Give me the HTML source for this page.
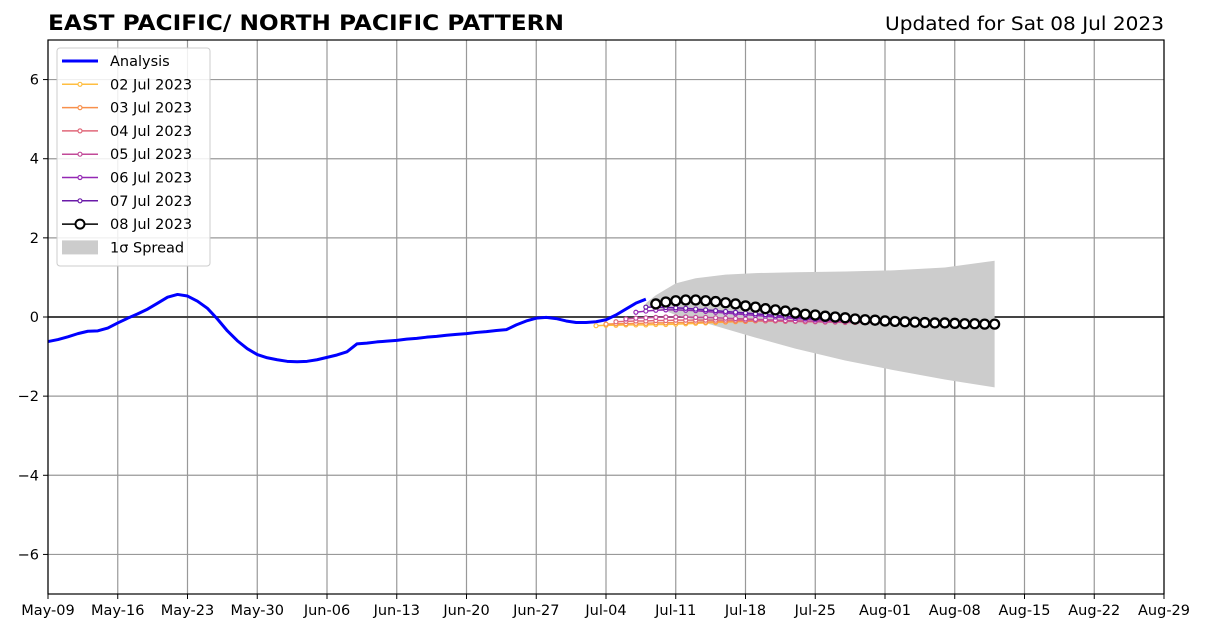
<!DOCTYPE html>
<html><head><meta charset="utf-8"><style>
body{margin:0;background:#fff;width:1206px;height:633px;overflow:hidden}
svg text{font-family:"DejaVu Sans","Liberation Sans",sans-serif}
</style></head><body>
<svg id="chart" width="1206" height="633" xmlns="http://www.w3.org/2000/svg">
<text x="48" y="30" font-size="21.5" font-weight="bold" textLength="516" lengthAdjust="spacingAndGlyphs">EAST PACIFIC/ NORTH PACIFIC PATTERN</text>
<text x="885" y="30" font-size="18.5" textLength="279" lengthAdjust="spacingAndGlyphs">Updated for Sat 08 Jul 2023</text>
<g id="grid"></g><g id="marks"></g><g id="axes"></g><g id="legend"></g>
</svg>
<script>
const xTickLabels=["May-09","May-16","May-23","May-30","Jun-06","Jun-13","Jun-20","Jun-27","Jul-04","Jul-11","Jul-18","Jul-25","Aug-01","Aug-08","Aug-15","Aug-22","Aug-29"];
const yTicks=[-6,-4,-2,0,2,4,6];
const analysis=[-0.62,-0.57,-0.5,-0.42,-0.36,-0.35,-0.28,-0.15,-0.03,0.08,0.2,0.35,0.5,0.57,0.53,0.4,0.22,-0.05,-0.35,-0.6,-0.8,-0.95,-1.03,-1.08,-1.12,-1.13,-1.12,-1.08,-1.02,-0.96,-0.88,-0.68,-0.66,-0.63,-0.61,-0.59,-0.56,-0.54,-0.51,-0.49,-0.46,-0.44,-0.42,-0.39,-0.37,-0.34,-0.32,-0.2,-0.1,-0.03,-0.01,-0.04,-0.1,-0.14,-0.14,-0.12,-0.07,0.05,0.2,0.35,0.45];
const fc08=[0.33,0.38,0.41,0.43,0.43,0.41,0.39,0.36,0.33,0.28,0.25,0.21,0.18,0.15,0.1,0.07,0.05,0.02,0.0,-0.02,-0.05,-0.07,-0.08,-0.1,-0.11,-0.12,-0.13,-0.14,-0.15,-0.15,-0.16,-0.17,-0.17,-0.18,-0.18];
const fc07=[0.25,0.25,0.24,0.23,0.22,0.2,0.18,0.16,0.14,0.12,0.1,0.08,0.06,0.04,0.02,0.0,-0.02,-0.04,-0.06,-0.07,-0.08,-0.09,-0.1,-0.11,-0.12,-0.13,-0.14,-0.14,-0.15,-0.15,-0.16,-0.16,-0.17,-0.17,-0.17];
const fc06=[0.12,0.15,0.17,0.18,0.18,0.17,0.16,0.14,0.12,0.1,0.08,0.06,0.04,0.02,0.0,-0.02,-0.04,-0.05,-0.07,-0.08,-0.09,-0.1,-0.11,-0.12,-0.13,-0.14,-0.14,-0.15,-0.15,-0.16,-0.16,-0.16,-0.17,-0.17,-0.17];
const fc05=[-0.05,-0.03,-0.02,-0.01,0.0,0.0,0.0,-0.01,-0.01,-0.02,-0.03,-0.04,-0.05,-0.06,-0.07,-0.08,-0.09,-0.1,-0.1,-0.11,-0.12,-0.12,-0.13,-0.13,-0.14,-0.14,-0.15,-0.15,-0.15,-0.16,-0.16,-0.16,-0.16,-0.17,-0.17];
const fc04=[-0.12,-0.11,-0.1,-0.1,-0.09,-0.09,-0.08,-0.08,-0.08,-0.08,-0.08,-0.08,-0.08,-0.09,-0.09,-0.1,-0.1,-0.11,-0.11,-0.12,-0.12,-0.13,-0.13,-0.14,-0.14,-0.14,-0.15,-0.15,-0.15,-0.15,-0.16,-0.16,-0.16,-0.16,-0.16];
const fc03=[-0.18,-0.17,-0.17,-0.16,-0.16,-0.15,-0.15,-0.14,-0.14,-0.13,-0.13,-0.12,-0.12,-0.11,-0.11,-0.1,-0.1,-0.1,-0.1,-0.1,-0.11,-0.11,-0.12,-0.12,-0.13,-0.13,-0.14,-0.14,-0.14,-0.15,-0.15,-0.15,-0.15,-0.16,-0.16];
const fc02=[-0.22,-0.21,-0.21,-0.2,-0.2,-0.2,-0.19,-0.19,-0.18,-0.17,-0.16,-0.15,-0.14,-0.13,-0.12,-0.11,-0.1,-0.09,-0.09,-0.09,-0.1,-0.1,-0.11,-0.11,-0.12,-0.12,-0.13,-0.13,-0.14,-0.14,-0.14,-0.15,-0.15,-0.15,-0.15];
const spreadDays=[60,61,63,65,68,71,75,80,85,90,95];
const spreadUpper=[0.35,0.55,0.85,0.98,1.07,1.11,1.13,1.15,1.18,1.25,1.42];
const spreadLower=[0.3,0.25,0.05,-0.08,-0.3,-0.52,-0.8,-1.1,-1.35,-1.58,-1.78];
const forecasts=[["02 Jul 2023",fc02,55,"#ffbe40"],["03 Jul 2023",fc03,56,"#f8904c"],["04 Jul 2023",fc04,57,"#e0687a"],["05 Jul 2023",fc05,58,"#c24a98"],["06 Jul 2023",fc06,59,"#9428b4"],["07 Jul 2023",fc07,60,"#6a1aa8"]];
const X0=48,X1=1164,Y0=40,Y1=594;
const xs=d=>X0+d*(X1-X0)/112;
const ys=v=>Y1-(v+7)*(Y1-Y0)/14;
const NS="http://www.w3.org/2000/svg";
function mk(p,t,a){const e=document.createElementNS(NS,t);for(const k in a)e.setAttribute(k,a[k]);p.appendChild(e);return e;}
const grid=document.getElementById('grid'),marks=document.getElementById('marks'),axes=document.getElementById('axes'),leg=document.getElementById('legend');
xTickLabels.forEach((l,i)=>{const x=xs(i*7);
 const g=mk(grid,'line',{x1:x,x2:x,y1:Y0,y2:Y1,stroke:'#999','stroke-width':1.2});
 
 mk(axes,'line',{x1:x,x2:x,y1:Y1,y2:Y1+5,stroke:'#000'});
 const t=mk(axes,'text',{x:x,y:Y1+21,'font-size':14.5,'text-anchor':'middle'});t.textContent=l;
 });
yTicks.forEach(v=>{const y=ys(v);
 const g=mk(grid,'line',{x1:X0,x2:X1,y1:y,y2:y,stroke:'#999','stroke-width':1.2});
 
 mk(axes,'line',{x1:X0-5,x2:X0,y1:y,y2:y,stroke:'#000'});
 const t=mk(axes,'text',{x:X0-9,y:y+5,'font-size':14.5,'text-anchor':'end'});t.textContent=(v<0?'\u2212'+(-v):v);
 });
const zl=mk(grid,'line',{x1:X0,x2:X1,y1:ys(0),y2:ys(0),stroke:'#444','stroke-width':2});

let pts=spreadDays.map((d,i)=>xs(d)+','+ys(spreadUpper[i]));
for(let i=spreadDays.length-1;i>=0;i--)pts.push(xs(spreadDays[i])+','+ys(spreadLower[i]));
const sp=mk(marks,'polygon',{points:pts.join(' '),fill:'#cccccc'});

const an=mk(marks,'polyline',{points:analysis.map((v,i)=>xs(i)+','+ys(v)).join(' '),fill:'none',stroke:'#0000ff','stroke-width':3,'stroke-linejoin':'round'});

forecasts.forEach(([n,arr,s,c])=>{
 const g=mk(marks,'g',{});
 
 mk(g,'polyline',{points:arr.map((v,i)=>xs(s+i)+','+ys(v)).join(' '),fill:'none',stroke:c,'stroke-width':1.5});
 arr.forEach((v,i)=>mk(g,'circle',{cx:xs(s+i),cy:ys(v),r:2,fill:'#fff',stroke:c,'stroke-width':1.2}));
});
const g8=mk(marks,'g',{});

mk(g8,'polyline',{points:fc08.map((v,i)=>xs(61+i)+','+ys(v)).join(' '),fill:'none',stroke:'#000','stroke-width':1.5});
fc08.forEach((v,i)=>mk(g8,'circle',{cx:xs(61+i),cy:ys(v),r:4.5,fill:'#fff',stroke:'#000','stroke-width':2.3}));
const fr=mk(axes,'rect',{x:X0,y:Y0,width:X1-X0,height:Y1-Y0,fill:'none',stroke:'#000','stroke-width':1.2});

const lb=mk(leg,'rect',{x:57,y:48,width:153,height:218,rx:3,fill:'#fff','fill-opacity':0.85,stroke:'#ccc'});

const entries=[["Analysis","#0000ff"]].concat(forecasts.map(f=>[f[0],f[3]])).concat([["08 Jul 2023","#000"],["1\u03c3 Spread","#ccc"]]);
entries.forEach(([n,c],i)=>{const y=61+i*23.3;
 const g=mk(leg,'g',{});
 
 if(i==8){mk(g,'rect',{x:62,y:y-7,width:36,height:14,fill:c});}
 else{mk(g,'line',{x1:62,x2:98,y1:y,y2:y,stroke:c,'stroke-width':i==0?3:1.5});
  if(i==7)mk(g,'circle',{cx:80,cy:y,r:4.5,fill:'#fff',stroke:'#000','stroke-width':2});
  else if(i>0)mk(g,'circle',{cx:80,cy:y,r:2,fill:'#fff',stroke:c,'stroke-width':1.2});}
 const t=mk(g,'text',{x:110,y:y+5,'font-size':14.5});t.textContent=n;});
</script>
</body></html>
